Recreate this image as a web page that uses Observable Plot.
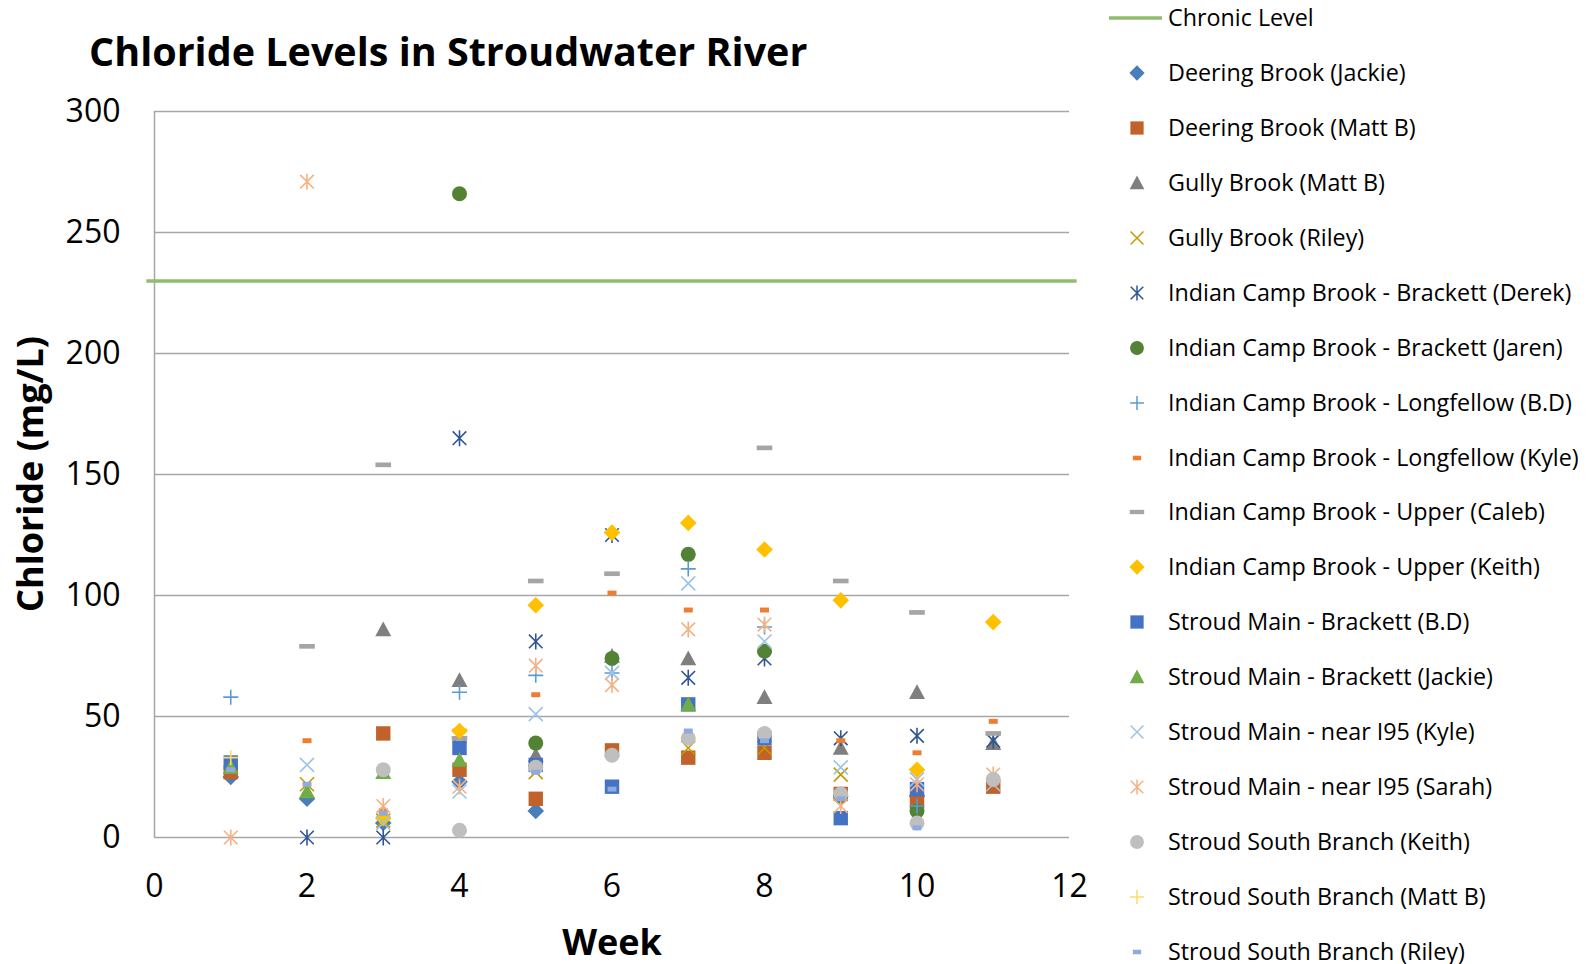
<!DOCTYPE html>
<html><head><meta charset="utf-8">
<script src="https://cdn.jsdelivr.net/npm/d3@7"></script>
<script src="https://cdn.jsdelivr.net/npm/@observablehq/plot@0.6"></script>
<style>
body{margin:0;background:#fff;font-family:"Open Sans",sans-serif;color:#000;}
#wrap{position:relative;width:1591px;height:964px;overflow:hidden;background:#fff;}
#wrap svg.plot{position:absolute;left:0;top:0;}
.abs{position:absolute;white-space:nowrap;line-height:1;}
#title{left:89px;top:32px;font-size:39.5px;font-weight:700;}
#ytitle{left:-170px;top:456px;width:400px;text-align:center;font-size:36px;font-weight:700;transform:rotate(-90deg);transform-origin:200px 18px;}
#xtitle{left:412px;top:924px;width:400px;text-align:center;font-size:36px;font-weight:700;}
.lrow{position:absolute;left:1100px;height:30px;}
.lrow svg{position:absolute;left:0;top:0;}
.lrow span{position:absolute;left:68px;top:3px;font-size:23.3px;line-height:1;white-space:nowrap;}
</style></head><body><div id="wrap"></div><script>
// ---------- data ----------
const weeks = [1,2,3,4,5,6,7,8,9,10,11];
const xTicks = [0,2,4,6,8,10,12];
const yTicks = [0,50,100,150,200,250,300];
const chronicLevel = [230];
const seriesNames = [
  "Deering Brook (Jackie)","Deering Brook (Matt B)","Gully Brook (Matt B)","Gully Brook (Riley)",
  "Indian Camp Brook - Brackett (Derek)","Indian Camp Brook - Brackett (Jaren)",
  "Indian Camp Brook - Longfellow (B.D)","Indian Camp Brook - Longfellow (Kyle)",
  "Indian Camp Brook - Upper (Caleb)","Indian Camp Brook - Upper (Keith)",
  "Stroud Main - Brackett (B.D)","Stroud Main - Brackett (Jackie)",
  "Stroud Main - near I95 (Kyle)","Stroud Main - near I95 (Sarah)",
  "Stroud South Branch (Keith)","Stroud South Branch (Matt B)","Stroud South Branch (Riley)"
];
//                       w1   w2   w3   w4   w5   w6   w7   w8   w9   w10  w11
const deeringJackie   = [25,  16,  6,   23,  11,  null,null,null,null,17,  null];
const deeringMattB    = [27,  null,43,  28,  16,  36,  33,  35,  18,  15,  21];
const gullyMattB      = [null,null,86,  65,  34,  75,  74,  58,  37,  60,  39];
const gullyRiley      = [null,22,  7,   42,  27,  null,37,  37,  26,  null,null];
const icbBrackettDerek= [null,0,   0,   165, 81,  125, 66,  74,  41,  42,  40];
const icbBrackettJaren= [null,null,null,266, 39,  74,  117, 77,  17,  11,  null];
const icbLongBD       = [58,  null,null,60,  67,  68,  111, 87,  null,13,  null];
const icbLongKyle     = [null,40,  11,  null,59,  101, 94,  94,  40,  35,  48];
const icbUpperCaleb   = [null,79,  154, 41,  106, 109, null,161, 106, 93,  43];
const icbUpperKeith   = [null,null,8,   44,  96,  126, 130, 119, 98,  28,  89];
const smBrackettBD    = [31,  null,null,37,  30,  21,  55,  41,  8,   20,  null];
const smBrackettJackie= [29,  19,  27,  32,  null,null,55,  null,null,null,null];
const smI95Kyle       = [null,30,  6,   19,  51,  68,  105, 81,  29,  24,  22];
const smI95Sarah      = [0,   271, 13,  21,  71,  63,  86,  88,  13,  22,  26];
const ssbKeith        = [null,null,28,  3,   29,  34,  41,  43,  18,  6,   24];
const ssbMattB        = [33,  null,null,null,null,null,null,null,null,null,null];
const ssbRiley        = [28,  22,  10,  null,27,  20,  44,  40,  16,  4,   null];
const seriesValues = [deeringJackie,deeringMattB,gullyMattB,gullyRiley,icbBrackettDerek,icbBrackettJaren,
  icbLongBD,icbLongKyle,icbUpperCaleb,icbUpperKeith,smBrackettBD,smBrackettJackie,smI95Kyle,smI95Sarah,
  ssbKeith,ssbMattB,ssbRiley];

// ---------- styles ----------
const R = s => Math.sqrt(s/Math.PI);
const sym = {
  diamond:{draw(c,s){const r=R(s);c.moveTo(0,-r);c.lineTo(r,0);c.lineTo(0,r);c.lineTo(-r,0);c.closePath();}},
  square:{draw(c,s){const r=R(s);c.rect(-r,-r,2*r,2*r);}},
  triangle:{draw(c,s){const r=R(s);c.moveTo(0,-r);c.lineTo(r,r*0.85);c.lineTo(-r,r*0.85);c.closePath();}},
  circle:{draw(c,s){const r=R(s);c.moveTo(r,0);c.arc(0,0,r,0,2*Math.PI);}},
  times:{draw(c,s){const r=R(s);c.moveTo(-r,-r);c.lineTo(r,r);c.moveTo(r,-r);c.lineTo(-r,r);}},
  star:{draw(c,s){const r=R(s);const d=r*0.85;c.moveTo(-d,-d);c.lineTo(d,d);c.moveTo(d,-d);c.lineTo(-d,d);c.moveTo(0,-r);c.lineTo(0,r);}},
  plus:{draw(c,s){const r=R(s);c.moveTo(-r,0);c.lineTo(r,0);c.moveTo(0,-r);c.lineTo(0,r);}},
  longDash:{draw(c,s){const r=R(s);c.rect(-r,-r*0.3,2*r,r*0.6);}},
  shortDash:{draw(c,s){const r=R(s);c.rect(-r,-r*0.55,2*r,r*1.1);}}
};
const seriesStyle = [
  {sym:"diamond",color:"#4a7ebb",r:8.3,fill:true},
  {sym:"square",color:"#c0622a",r:7.2,fill:true},
  {sym:"triangle",color:"#7f7f7f",r:8,fill:true},
  {sym:"times",color:"#c49a00",r:7,fill:false},
  {sym:"star",color:"#2f5597",r:8,fill:false},
  {sym:"circle",color:"#548235",r:7.5,fill:true},
  {sym:"plus",color:"#5b9bd5",r:7.5,fill:false},
  {sym:"shortDash",color:"#ed7d31",r:4.5,fill:true},
  {sym:"longDash",color:"#a5a5a5",r:7.8,fill:true},
  {sym:"diamond",color:"#ffc000",r:8.3,fill:true},
  {sym:"square",color:"#4472c4",r:7.2,fill:true},
  {sym:"triangle",color:"#70ad47",r:8,fill:true},
  {sym:"times",color:"#9dc3e6",r:7,fill:false},
  {sym:"star",color:"#f4b183",r:8,fill:false},
  {sym:"circle",color:"#bfbfbf",r:7.5,fill:true},
  {sym:"plus",color:"#ffd966",r:7.5,fill:false},
  {sym:"shortDash",color:"#8faadc",r:4.5,fill:true}
];
const chronicColor = "#8fbc6f";

// ---------- chart ----------
const dotMarks = seriesNames.map((name,i)=>{
  const st = seriesStyle[i];
  const data = weeks.map((w,j)=>({week:w,value:seriesValues[i][j]})).filter(d=>d.value!=null);
  return Plot.dot(data,{x:"week",y:"value",symbol:sym[st.sym],r:st.r,
    fill: st.fill ? st.color : "none", stroke: st.fill ? "none" : st.color, strokeWidth:1.6});
});

const chart = Plot.plot({
  width:1591, height:964,
  marginLeft:154, marginRight:522, marginTop:111, marginBottom:127,
  x:{domain:[0,12]}, y:{domain:[0,300]},
  style:{fontFamily:"'Open Sans', sans-serif", fontSize:"32px", color:"#000", background:"transparent", overflow:"visible"},
  marks:[
    Plot.gridY(yTicks,{stroke:"#a6a6a6",strokeOpacity:1,strokeWidth:1.5}),
    Plot.ruleX([0],{stroke:"#a6a6a6",strokeWidth:1.5}),
    Plot.axisY(yTicks,{tickSize:0,tickPadding:34,label:null,fontSize:32,fill:"#000"}),
    Plot.axisX(xTicks,{tickSize:0,tickPadding:37,label:null,fontSize:32,fill:"#000"}),
    Plot.ruleY(chronicLevel,{x1:-0.1,x2:12.1,stroke:chronicColor,strokeWidth:3.5,clip:false}),
    ...dotMarks
  ]
});
const wrap = document.getElementById("wrap");
wrap.appendChild(chart);

// ---------- titles ----------
function addDiv(id,text){const d=document.createElement("div");d.id=id;d.className="abs";d.textContent=text;wrap.appendChild(d);}
addDiv("title","Chloride Levels in Stroudwater River");
addDiv("ytitle","Chloride (mg/L)");
addDiv("xtitle","Week");

// ---------- legend ----------
const legendItems = [{name:"Chronic Level",line:true}].concat(seriesNames.map((n,i)=>({name:n,style:seriesStyle[i]})));
legendItems.forEach((it,i)=>{
  const row=document.createElement("div");row.className="lrow";
  const cy = 18.3 + i*54.9;
  row.style.top=(cy-15)+"px";
  const svg=d3.create("svg").attr("width",66).attr("height",30);
  if(it.line){
    svg.append("line").attr("x1",9).attr("x2",62).attr("y1",15).attr("y2",15).attr("stroke",chronicColor).attr("stroke-width",3.5);
  } else {
    const st=it.style;
    const p=d3.symbol(sym[st.sym], st.r*st.r*Math.PI*0.85)();
    svg.append("path").attr("d",p).attr("transform","translate(37,15)")
      .attr("fill",st.fill?st.color:"none").attr("stroke",st.fill?"none":st.color).attr("stroke-width",1.5);
  }
  row.appendChild(svg.node());
  const sp=document.createElement("span");sp.textContent=it.name;row.appendChild(sp);
  wrap.appendChild(row);
});
</script></body></html>
